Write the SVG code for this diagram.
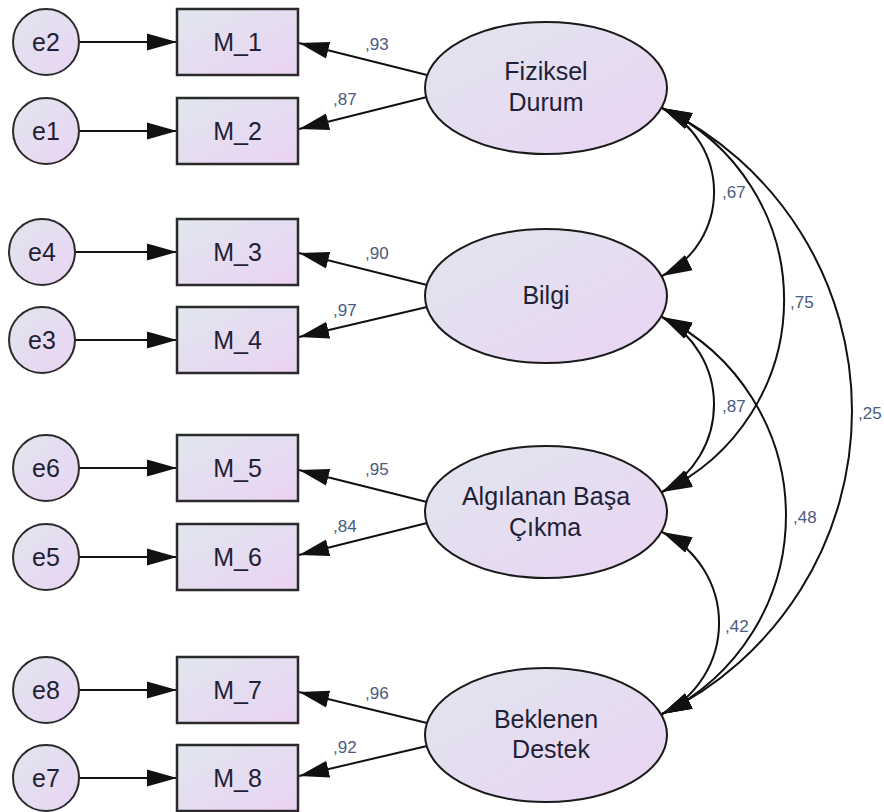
<svg xmlns="http://www.w3.org/2000/svg" width="884" height="812" viewBox="0 0 884 812">
<defs>
<linearGradient id="fillg" x1="0" y1="0" x2="1" y2="1">
<stop offset="0" stop-color="#e0e6ee"/>
<stop offset="1" stop-color="#ebd3f3"/>
</linearGradient>
<marker id="ah" markerUnits="userSpaceOnUse" markerWidth="30" markerHeight="18" viewBox="0 0 28 16" refX="28" refY="8" orient="auto-start-reverse">
<path d="M0,0 L28,8 L0,16 z" fill="#111"/>
</marker>
<style>
.obs{fill:url(#fillg);stroke:#2a2a2a;stroke-width:2.5}
.lat{fill:url(#fillg);stroke:#1a1a1a;stroke-width:2}
.err{fill:url(#fillg);stroke:#2a2a2a;stroke-width:2}
.nt{font-family:"Liberation Sans",Arial,sans-serif;font-size:25px;fill:#1f1f38;text-anchor:middle}
.lb{font-family:"Liberation Sans",Arial,sans-serif;font-size:17px;fill:#4a5a80}
.ln{fill:none;stroke:#111;stroke-width:2}
.ar{marker-end:url(#ah)}
.dar{marker-start:url(#ah);marker-end:url(#ah)}
</style>
</defs>
<rect width="884" height="812" fill="#ffffff"/>

<g id="connectors">
<!-- error to observed -->
<line class="ln ar" x1="79" y1="42" x2="177" y2="42"/>
<line class="ln ar" x1="79" y1="131" x2="177" y2="131"/>
<line class="ln ar" x1="75" y1="252" x2="177" y2="252"/>
<line class="ln ar" x1="75" y1="340" x2="177" y2="340"/>
<line class="ln ar" x1="79" y1="468" x2="177" y2="468"/>
<line class="ln ar" x1="79" y1="557" x2="177" y2="557"/>
<line class="ln ar" x1="79" y1="690" x2="177" y2="690"/>
<line class="ln ar" x1="79" y1="778" x2="177" y2="778"/>
<!-- loadings -->
<line class="ln ar" x1="427" y1="75" x2="299" y2="43"/>
<line class="ln ar" x1="427" y1="97" x2="299" y2="129"/>
<line class="ln ar" x1="427" y1="285" x2="299" y2="253"/>
<line class="ln ar" x1="427" y1="307" x2="299" y2="337"/>
<line class="ln ar" x1="427" y1="502" x2="299" y2="470"/>
<line class="ln ar" x1="427" y1="523" x2="299" y2="555"/>
<line class="ln ar" x1="427" y1="723" x2="299" y2="692"/>
<line class="ln ar" x1="427" y1="746" x2="299" y2="776"/>
<!-- covariances -->
<path class="ln dar" d="M662,108 A93.8,93.8 0 0 1 662,276"/>
<path class="ln dar" d="M662,108 A212,212 0 0 1 662,492"/>
<path class="ln dar" d="M662,108 A336.6,336.6 0 0 1 662,714"/>
<path class="ln dar" d="M662,317 A99.6,99.6 0 0 1 662,492"/>
<path class="ln dar" d="M662,317 A220.9,220.9 0 0 1 662,714"/>
<path class="ln dar" d="M662,532 A101.1,101.1 0 0 1 662,714"/>
<!-- labels -->
<text class="lb" x="365" y="50">,93</text>
<text class="lb" x="333" y="105">,87</text>
<text class="lb" x="365" y="259">,90</text>
<text class="lb" x="333" y="316">,97</text>
<text class="lb" x="365" y="475">,95</text>
<text class="lb" x="333" y="532">,84</text>
<text class="lb" x="365" y="699">,96</text>
<text class="lb" x="333" y="753">,92</text>
<text class="lb" x="722" y="198">,67</text>
<text class="lb" x="790" y="308">,75</text>
<text class="lb" x="722" y="412">,87</text>
<text class="lb" x="858" y="419">,25</text>
<text class="lb" x="793" y="523">,48</text>
<text class="lb" x="725" y="632">,42</text>
</g>

<g id="e2"><circle class="err" cx="46" cy="42" r="33"/><text class="nt" x="46" y="51">e2</text></g>
<g id="e1"><circle class="err" cx="46" cy="131" r="33"/><text class="nt" x="46" y="140">e1</text></g>
<g id="e4"><circle class="err" cx="42" cy="252" r="33"/><text class="nt" x="42" y="261">e4</text></g>
<g id="e3"><circle class="err" cx="42" cy="340" r="33"/><text class="nt" x="42" y="349">e3</text></g>
<g id="e6"><circle class="err" cx="46" cy="468" r="33"/><text class="nt" x="46" y="477">e6</text></g>
<g id="e5"><circle class="err" cx="46" cy="557" r="33"/><text class="nt" x="46" y="566">e5</text></g>
<g id="e8"><circle class="err" cx="46" cy="690" r="33"/><text class="nt" x="46" y="699">e8</text></g>
<g id="e7"><circle class="err" cx="46" cy="778" r="33"/><text class="nt" x="46" y="787">e7</text></g>

<g id="M_1"><rect class="obs" x="177" y="9" width="121" height="66"/><text class="nt" x="237.5" y="51">M_1</text></g>
<g id="M_2"><rect class="obs" x="177" y="98" width="121" height="66"/><text class="nt" x="237.5" y="140">M_2</text></g>
<g id="M_3"><rect class="obs" x="177" y="219" width="121" height="66"/><text class="nt" x="237.5" y="261">M_3</text></g>
<g id="M_4"><rect class="obs" x="177" y="307" width="121" height="66"/><text class="nt" x="237.5" y="349">M_4</text></g>
<g id="M_5"><rect class="obs" x="177" y="435" width="121" height="66"/><text class="nt" x="237.5" y="477">M_5</text></g>
<g id="M_6"><rect class="obs" x="177" y="524" width="121" height="66"/><text class="nt" x="237.5" y="566">M_6</text></g>
<g id="M_7"><rect class="obs" x="177" y="657" width="121" height="66"/><text class="nt" x="237.5" y="699">M_7</text></g>
<g id="M_8"><rect class="obs" x="177" y="745" width="121" height="66"/><text class="nt" x="237.5" y="787">M_8</text></g>

<g id="FizikselDurum"><ellipse class="lat" cx="546" cy="88" rx="121" ry="66"/><text class="nt" x="546" y="80">Fiziksel</text><text class="nt" x="546" y="111">Durum</text></g>
<g id="Bilgi"><ellipse class="lat" cx="546" cy="296" rx="121" ry="67"/><text class="nt" x="546" y="304">Bilgi</text></g>
<g id="AlgilananBasaCikma"><ellipse class="lat" cx="546" cy="512" rx="121" ry="66"/><text class="nt" x="546" y="505">Algılanan Başa</text><text class="nt" x="545" y="536">Çıkma</text></g>
<g id="BeklenenDestek"><ellipse class="lat" cx="546" cy="735" rx="121" ry="67"/><text class="nt" x="546" y="728">Beklenen</text><text class="nt" x="551" y="758">Destek</text></g>
</svg>
